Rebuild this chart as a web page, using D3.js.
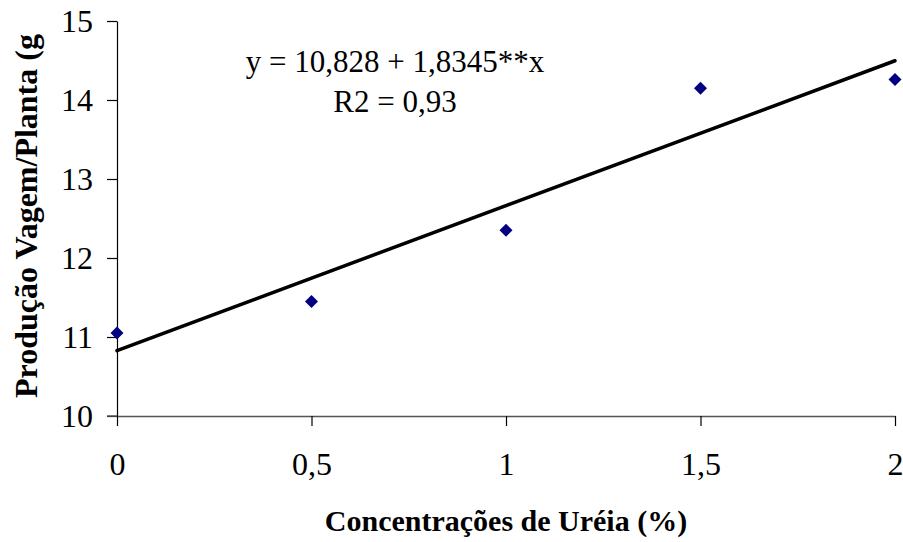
<!DOCTYPE html>
<html>
<head>
<meta charset="utf-8">
<script src="https://cdn.jsdelivr.net/npm/d3@7"></script>
<style>
  body { margin: 0; background: #fff; }
</style>
</head>
<body>
<div id="chart"></div>
<script>
// data
const concentracoes = [0, 0.5, 1, 1.5, 2];
const producao = [11.05, 11.45, 12.35, 14.15, 14.26];
const xTicks = [0, 0.5, 1, 1.5, 2];
const yTicks = [10, 11, 12, 13, 14, 15];
const intercept = 10.828;
const slope = 1.8345;
const equationLines = ["y = 10,828 + 1,8345**x", "R2 = 0,93"];

const serif = "Liberation Serif";
const width = 903, height = 542;
const margin = { top: 21, left: 117, bottom: 126, right: 8 };

const svg = d3.select("#chart").append("svg")
    .attr("width", width)
    .attr("height", height)
    .attr("font-family", serif);

const x = d3.scaleLinear().domain([0, 2]).range([margin.left, width - margin.right]);
const y = d3.scaleLinear().domain([10, 15]).range([height - margin.bottom, margin.top]);

const fmt = d => String(d).replace(".", ",");

// y axis
const yAxis = svg.append("g")
    .attr("transform", `translate(${margin.left},0)`)
    .call(d3.axisLeft(y).tickValues(yTicks).tickSize(10).tickSizeOuter(0).tickPadding(14).tickFormat(fmt));

// x axis
const xAxis = svg.append("g")
    .attr("transform", `translate(0,${y(10)})`)
    .call(d3.axisBottom(x).tickValues(xTicks).tickSize(10).tickSizeOuter(0).tickPadding(26).tickFormat(fmt));

[yAxis, xAxis].forEach(g => {
    g.attr("font-family", serif).attr("font-size", 32);
    g.select(".domain").attr("stroke", "#000").attr("stroke-width", 1.2);
    g.selectAll(".tick line").attr("stroke", "#000").attr("stroke-width", 1.2);
    g.selectAll(".tick text").attr("fill", "#000");
});
xAxis.select(".domain").attr("stroke", "#555").attr("stroke-width", 1.5);
// the x axis line reaches left to the end of the y tick
xAxis.append("line")
    .attr("x1", margin.left - 10).attr("x2", margin.left)
    .attr("stroke", "#555").attr("stroke-width", 1.5);

// trend line
const line = d3.line()
    .x(d => x(d))
    .y(d => y(intercept + slope * d));
svg.append("path")
    .attr("d", line([0, 2]))
    .attr("fill", "none")
    .attr("stroke", "#000")
    .attr("stroke-width", 3.5)
    .attr("stroke-linecap", "round");

// points
const diamond = d3.symbol(d3.symbolSquare, 84);
svg.append("g").selectAll("path")
    .data(concentracoes)
    .join("path")
    .attr("d", diamond)
    .attr("transform", (d, i) => `translate(${x(d)},${y(producao[i])}) rotate(45)`)
    .attr("fill", "#000080");

// equation
svg.append("g").selectAll("text")
    .data(equationLines)
    .join("text")
    .attr("x", 395)
    .attr("y", (d, i) => 72 + i * 40)
    .attr("text-anchor", "middle")
    .attr("font-size", 31)
    .text(d => d);

// axis titles
svg.append("text")
    .attr("x", 506)
    .attr("y", 531)
    .attr("text-anchor", "middle")
    .attr("font-size", 30)
    .attr("font-weight", "bold")
    .text("Concentrações de Uréia (%)");

svg.append("text")
    .attr("transform", "translate(37,216) rotate(-90)")
    .attr("text-anchor", "middle")
    .attr("font-size", 32)
    .attr("font-weight", "bold")
    .text("Produção Vagem/Planta (g");
</script>
</body>
</html>
